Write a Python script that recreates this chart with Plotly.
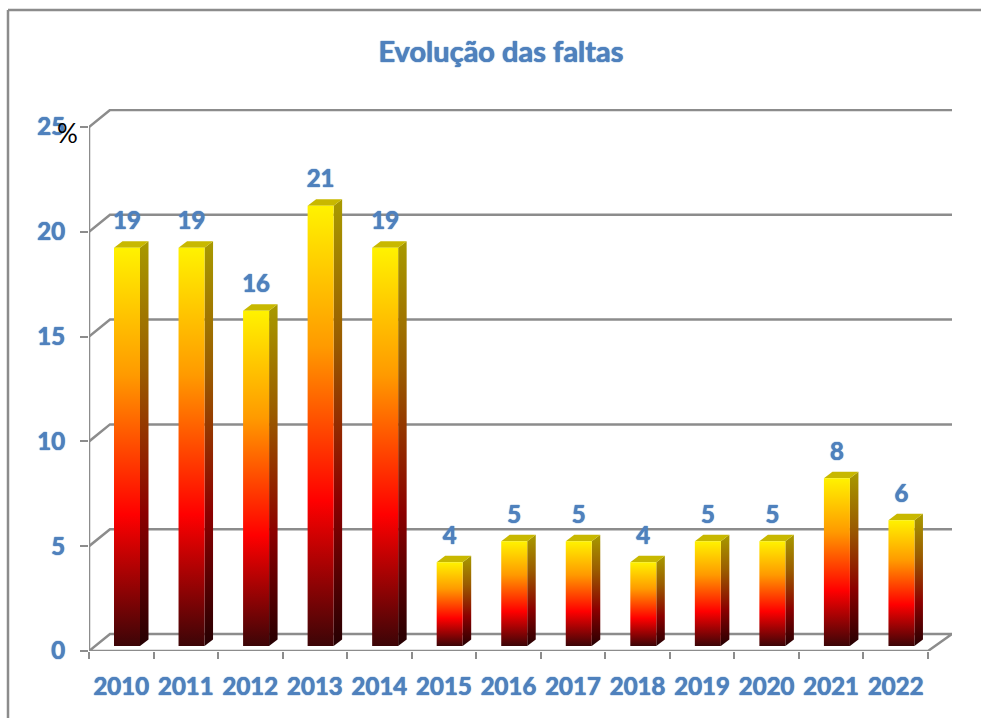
import plotly.graph_objects as go

years = ["2010", "2011", "2012", "2013", "2014", "2015", "2016", "2017", "2018", "2019", "2020", "2021", "2022"]
faltas = [19, 19, 16, 21, 19, 4, 5, 5, 4, 5, 5, 8, 6]
y_ticks = [0, 5, 10, 15, 20, 25]
title_text = "Evolução das faltas"
unit_text = "%"

BLUE = "#4f81bd"
GRID = "#8c8c8c"
FONT = "Lato"
GLOW = "0 0 1px #4f81bd, 0 0 1px #4f81bd"

# pixel geometry of the plot
W, H = 981, 718
PX_L, PX_R, PX_T, PX_B = 89, 952, 109, 650
EXTRA_B = 1
n = len(years)
UX = (928 - 89) / n          # pixels per category
UY = (650 - 127) / 25        # pixels per value unit
px = lambda d: d / UX        # horizontal pixels -> x units
py = lambda d: d / UY        # vertical pixels -> y units

WALL_DX, WALL_DY = px(21), py(17)
WALL_DX_R = px(24)
BAR_L, BAR_W = px(25), px(26)
SIDE_DX, SIDE_DY = px(8.5), py(6.5)
FLOOR = py(5)

front_scale = [[0, "#3c0507"], [0.33, "#ff0000"], [0.68, "#ff9a00"], [1, "#fff200"]]
side_scale = [[0, "#250002"], [0.33, "#8c0000"], [0.68, "#9a5c00"], [1, "#a89a00"]]
TOP_FACE = "#c8b800"

fig = go.Figure()


def line(xs, ys, width=2.5, color=GRID):
    fig.add_trace(go.Scatter(x=xs, y=ys, mode="lines", line=dict(color=color, width=width),
                             hoverinfo="skip", showlegend=False, cliponaxis=False))


# back wall gridlines with their slanted side-wall segment
for t in y_ticks[1:]:
    line([0, WALL_DX, n + WALL_DX_R], [t, t + WALL_DY, t + WALL_DY])
# floor
line([0, WALL_DX, n + WALL_DX_R, n, 0], [0, WALL_DY, WALL_DY, 0, 0])
# front vertical axis
line([0, 0], [0, y_ticks[-1]])

# bars
for i, v in enumerate(faltas):
    x0 = i + BAR_L
    x1 = x0 + BAR_W
    y0 = FLOOR
    y1 = FLOOR + v
    fig.add_trace(go.Scatter(
        x=[x1, x1 + SIDE_DX, x1 + SIDE_DX, x1, x1],
        y=[y0, y0 + SIDE_DY, y1 + SIDE_DY, y1, y0],
        mode="lines", line=dict(width=0), fill="toself",
        fillgradient=dict(type="vertical", colorscale=side_scale, start=y0, stop=y1 + SIDE_DY),
        hoverinfo="skip", showlegend=False))
    fig.add_trace(go.Scatter(
        x=[x0, x0 + SIDE_DX, x1 + SIDE_DX, x1, x0],
        y=[y1, y1 + SIDE_DY, y1 + SIDE_DY, y1, y1],
        mode="lines", line=dict(width=0), fill="toself", fillcolor=TOP_FACE,
        hoverinfo="skip", showlegend=False))
    fig.add_trace(go.Scatter(
        x=[x0, x1, x1, x0, x0],
        y=[y0, y0, y1, y1, y0],
        mode="lines", line=dict(width=0), fill="toself",
        fillgradient=dict(type="vertical", colorscale=front_scale, start=y0, stop=y1),
        hoverinfo="skip", showlegend=False))

# value labels
fig.add_trace(go.Scatter(
    x=[i + BAR_L + BAR_W / 2 for i in range(n)],
    y=[FLOOR + v + SIDE_DY + py(6) for v in faltas],
    mode="text", text=[str(v) for v in faltas], textposition="top center",
    textfont=dict(family=FONT, size=24, color=BLUE, weight="bold", shadow=GLOW),
    hoverinfo="skip", showlegend=False, cliponaxis=False))

tick_font = dict(family=FONT, size=24, color=BLUE, weight="bold", shadow=GLOW)

BOT = PX_B + EXTRA_B
fig.update_layout(
    width=W, height=H,
    autosize=False,
    paper_bgcolor="white", plot_bgcolor="white",
    margin=dict(l=PX_L, r=W - PX_R, t=PX_T, b=H - BOT, pad=0),
    showlegend=False,
    font=dict(family=FONT),
    title=dict(text=title_text, x=501 / W, xanchor="center", y=1 - 52 / H, yanchor="middle",
               font=dict(family=FONT, size=29, color=BLUE, weight="bold", shadow=GLOW)),
    xaxis=dict(range=[0, (PX_R - PX_L) / UX], showgrid=False, zeroline=False, showline=True,
               linecolor="rgba(0,0,0,0)",
               tickmode="array", tickvals=[i + 0.5 for i in range(n)], ticktext=years, ticks="",
               ticklabelstandoff=14,
               tickfont=tick_font,
               minor=dict(tickmode="array", tickvals=list(range(n + 1)), ticks="outside",
                          ticklen=7, tickwidth=2, tickcolor=GRID)),
    yaxis=dict(range=[0, (PX_B - PX_T) / UY], showgrid=False, zeroline=False, showline=False,
               tickmode="array", tickvals=y_ticks, ticks="outside", ticklen=8, tickwidth=2,
               tickcolor=GRID, ticklabelstandoff=10,
               tickfont=tick_font),
    shapes=[
        dict(type="line", xref="paper", yref="paper", layer="below",
             x0=(8 - PX_L) / (PX_R - PX_L), x1=(W - PX_L) / (PX_R - PX_L),
             y0=1 + (PX_T - 10) / (BOT - PX_T), y1=1 + (PX_T - 10) / (BOT - PX_T),
             line=dict(color=GRID, width=2.5)),
        dict(type="line", xref="paper", yref="paper", layer="below",
             x0=(8 - PX_L) / (PX_R - PX_L), x1=(8 - PX_L) / (PX_R - PX_L),
             y0=1 + (PX_T - 10) / (BOT - PX_T), y1=(BOT - H) / (BOT - PX_T),
             line=dict(color=GRID, width=2.5)),
    ],
    annotations=[dict(text=unit_text, xref="paper", yref="paper",
                      x=(67 - PX_L) / (PX_R - PX_L), y=(BOT - 133) / (BOT - PX_T),
                      xanchor="center", yanchor="middle", showarrow=False,
                      font=dict(family=FONT, size=26, color="black"))],
)

fig.write_html("out.html", config=dict(displayModeBar=False),
               post_script="document.body.style.margin='0';document.documentElement.style.overflow='hidden';")
